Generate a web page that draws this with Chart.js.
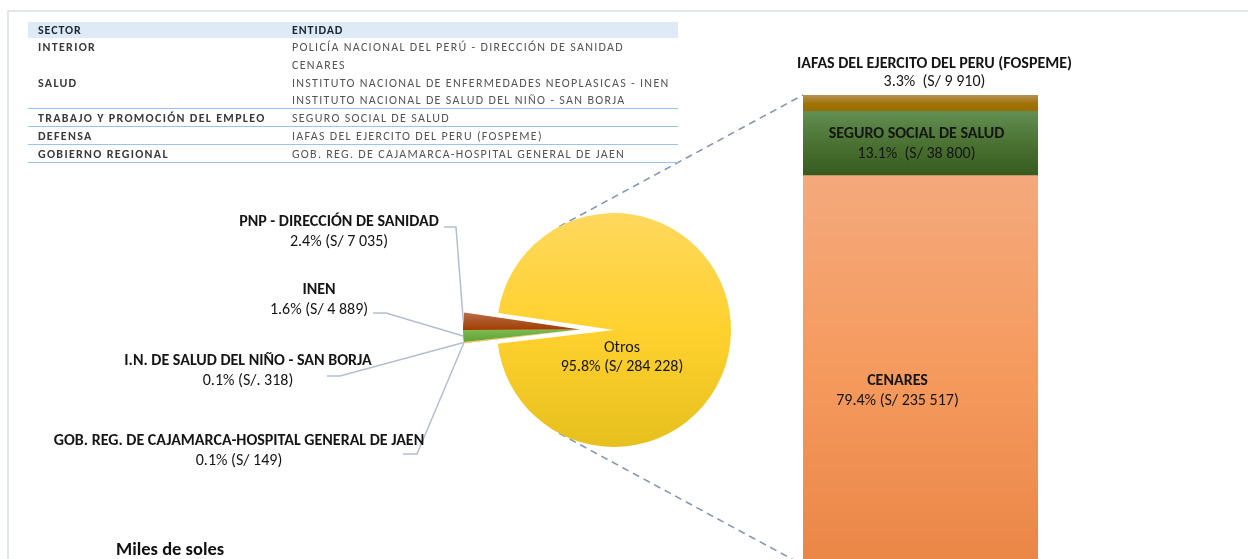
<!DOCTYPE html>
<html><head><meta charset="utf-8">
<script src="https://cdn.jsdelivr.net/npm/chart.js@4.4.1/dist/chart.umd.min.js"></script>
<style>
html,body{margin:0;padding:0;background:#fff;}
#wrap{position:relative;width:1248px;height:559px;overflow:hidden;background:#fff;}
#frame{position:absolute;left:7px;top:10px;width:1260px;height:570px;border-top:2px solid #e2e7ee;border-left:2px solid #e2e7ee;}
#pie{position:absolute;left:0;top:0;}
#bar{position:absolute;left:760px;top:40px;}
#tbl{position:absolute;left:28px;top:22px;width:650px;font-family:Carlito,Lato,sans-serif;font-size:12px;letter-spacing:1.3px;}
#tbl .hd{position:absolute;left:0;top:0;width:650px;height:16px;background:#deeaf6;}
#tbl .c1,#tbl .c2{position:absolute;white-space:nowrap;line-height:12px;}
#tbl .c1{left:10px;color:#3a3a3a;font-weight:bold;}
#tbl .c2{left:264px;color:#555;}
#tbl .hd .c1,#tbl .hd .c2{color:#1d2733;top:2px;font-weight:bold;letter-spacing:0.9px;}
#tbl .rule{position:absolute;left:0;width:650px;height:0;border-top:1.5px solid #9dc3e6;}
#miles{position:absolute;left:116px;top:538px;font-family:Carlito,Lato,sans-serif;font-weight:bold;font-size:18.5px;line-height:22px;color:#111;}
</style></head>
<body><div id="wrap">
<div id="frame"></div>
<canvas id="pie" width="1248" height="559"></canvas>
<canvas id="bar" width="330" height="525"></canvas>
<div id="tbl"></div>
<div id="miles">Miles de soles</div>
</div>
<script>
// ---- data ----
const tableHeader = ['SECTOR', 'ENTIDAD'];
const tableSectors = ['INTERIOR', '', 'SALUD', '', 'TRABAJO Y PROMOCIÓN DEL EMPLEO', 'DEFENSA', 'GOBIERNO REGIONAL'];
const tableEntities = ['POLICÍA NACIONAL DEL PERÚ - DIRECCIÓN DE SANIDAD', 'CENARES',
  'INSTITUTO NACIONAL DE ENFERMEDADES NEOPLASICAS - INEN', 'INSTITUTO NACIONAL DE SALUD DEL NIÑO - SAN BORJA',
  'SEGURO SOCIAL DE SALUD', 'IAFAS DEL EJERCITO DEL PERU (FOSPEME)', 'GOB. REG. DE CAJAMARCA-HOSPITAL GENERAL DE JAEN'];
const tableRuleAfter = [false, false, false, true, true, true, true];

const pieLabels = ['GOB. REG. DE CAJAMARCA-HOSPITAL GENERAL DE JAEN', 'I.N. DE SALUD DEL NIÑO - SAN BORJA', 'INEN', 'PNP - DIRECCIÓN DE SANIDAD', 'Otros'];
const pieValues = [149, 318, 4889, 7035, 284228];
const pieCurrency = ['S/', 'S/.', 'S/', 'S/', 'S/'];

const barLabels = ['CENARES', 'SEGURO SOCIAL DE SALUD', 'IAFAS DEL EJERCITO DEL PERU (FOSPEME)'];
const barValues = [235517, 38800, 9910];
const barGap = [' ', '  ', '  '];

// ---- table ----
(function(){
  const t = document.getElementById('tbl');
  let h = '<div class="hd"><div class="c1">' + tableHeader[0] + '</div><div class="c2">' + tableHeader[1] + '</div></div>';
  const rowH = 17.8, top0 = 16;
  tableSectors.forEach((s, i) => {
    const y = top0 + i * rowH;
    h += '<div class="c1" style="top:' + (y + 3) + 'px">' + s + '</div>';
    h += '<div class="c2" style="top:' + (y + 3) + 'px">' + tableEntities[i] + '</div>';
    if (tableRuleAfter[i]) h += '<div class="rule" style="top:' + (y + rowH - 1) + 'px"></div>';
  });
  t.innerHTML = h;
})();

const total = pieValues.reduce((a, b) => a + b, 0);
const fmt = v => String(v).replace(/\B(?=(\d{3})+(?!\d))/g, ' ');
const pct = v => (v / total * 100).toFixed(1) + '%';
const FONT = 'Carlito, Lato, sans-serif';
const TXT = '#151515';
const LBL = 16;

// ---- bar chart ----
const barCum = barValues.map((v, i) => barValues.slice(0, i + 1).reduce((a, b) => a + b, 0));
const barTotal = barCum[barCum.length - 1];
const barStops = [
  ['#f4a97c', '#f59a5e', '#ea8646'],
  ['#628f52', '#4a7232', '#375a20'],
  ['#b89058', '#a07408', '#9a6c00']
];
function barGrad(c) {
  const ch = c.chart, y = ch.scales && ch.scales.y, i = c.datasetIndex;
  if (!y || !ch.chartArea) return barStops[i][1];
  const yt = y.getPixelForValue(barCum[i]), yb = y.getPixelForValue(barCum[i] - barValues[i]);
  const g = ch.ctx.createLinearGradient(0, yt, 0, yb);
  g.addColorStop(0, barStops[i][0]); g.addColorStop(0.5, barStops[i][1]); g.addColorStop(1, barStops[i][2]);
  return g;
}
const barLabelLayout = [
  {dx: -23, dy1: 11, dy2: 31, ref: 'center'},
  {dx: -4, dy1: -9, dy2: 11, ref: 'center'},
  {dx: 14, dy1: -31, dy2: -13, ref: 'top'}
];
const barLabelPlugin = {
  id: 'barLabels',
  afterDraw(chart) {
    const ctx = chart.ctx;
    ctx.save();
    ctx.textAlign = 'center'; ctx.textBaseline = 'middle'; ctx.fillStyle = TXT;
    barValues.forEach((v, i) => {
      const el = chart.getDatasetMeta(i).data[0];
      const L = barLabelLayout[i];
      const yRef = L.ref === 'top' ? el.y : (el.y + el.base) / 2;
      ctx.font = 'bold ' + LBL + 'px ' + FONT;
      ctx.fillText(barLabels[i], el.x + L.dx, yRef + L.dy1);
      ctx.font = LBL + 'px ' + FONT;
      ctx.fillText(pct(v) + barGap[i] + '(S/ ' + fmt(v) + ')', el.x + L.dx, yRef + L.dy2);
    });
    ctx.restore();
  }
};
const barCanvas = document.getElementById('bar');
const barChart = new Chart(barCanvas, {
  type: 'bar',
  data: {
    labels: [''],
    datasets: barLabels.map((l, i) => ({
      label: l, data: [barValues[i]], backgroundColor: barGrad, borderWidth: 0,
      barPercentage: 1, categoryPercentage: 1
    }))
  },
  options: {
    responsive: false, animation: false, events: [],
    layout: {padding: {left: 43, right: 52, top: 55, bottom: 0}},
    plugins: {legend: {display: false}, tooltip: {enabled: false}},
    scales: {
      x: {display: false, stacked: true},
      y: {display: false, stacked: true, min: 0, max: barTotal}
    }
  },
  plugins: [barLabelPlugin]
});

// ---- pie chart ----
const PIE_R = 117, EXPLODE = 34;
const pieSolid = ['#ed7d31', '#ffc000', '#6fae45', '#a8460f', '#ffd12f'];
function pieColor(c) {
  const ch = c.chart, ca = ch.chartArea, i = c.dataIndex;
  if (!ca) return pieSolid[i];
  const cy = (ca.top + ca.bottom) / 2;
  if (i === 4) {
    const g = ch.ctx.createLinearGradient(0, cy - PIE_R, 0, cy + PIE_R);
    g.addColorStop(0, '#ffd85e'); g.addColorStop(0.5, '#ffd12e'); g.addColorStop(1, '#e6c01e');
    return g;
  }
  if (i === 3) {
    const g = ch.ctx.createLinearGradient(0, cy - 17, 0, cy);
    g.addColorStop(0, '#b86c48'); g.addColorStop(1, '#a03d00');
    return g;
  }
  if (i === 2) {
    const g = ch.ctx.createLinearGradient(0, cy, 0, cy + 13);
    g.addColorStop(0, '#7cb94f'); g.addColorStop(1, '#5f9f35');
    return g;
  }
  return pieSolid[i];
}
const explodePlugin = {
  id: 'explode',
  afterDatasetsUpdate(chart) {
    const els = chart.getDatasetMeta(0).data.slice(0, 4);
    const a = (els[0].startAngle + els[els.length - 1].endAngle) / 2;
    els.forEach(el => { el.x += Math.cos(a) * EXPLODE; el.y += Math.sin(a) * EXPLODE; });
  }
};
const pieLabelLayout = [
  {x: 239, y: 441, from: [403, 454], elbow: [417, 454]},
  {x: 248, y: 361, from: [327, 376], elbow: [340, 376]},
  {x: 319, y: 290, from: [373, 313], elbow: [386, 313]},
  {x: 339, y: 222, from: [444, 227], elbow: [456, 227]}
];
const pieDecor = {
  id: 'pieDecor',
  beforeDatasetsDraw(chart) {
    const ctx = chart.ctx;
    const main = chart.getDatasetMeta(0).data[4];
    const bars = barChart.getDatasetMeta(barValues.length - 1).data[0];
    const first = barChart.getDatasetMeta(0).data[0];
    const ox = barCanvas.offsetLeft, oy = barCanvas.offsetTop;
    const bx = ox + bars.x - bars.width / 2;
    const ang = 118 * Math.PI / 180;
    ctx.save();
    ctx.strokeStyle = '#8598b2'; ctx.lineWidth = 1.6; ctx.setLineDash([7, 5]);
    ctx.beginPath();
    ctx.moveTo(main.x + Math.cos(-ang) * main.outerRadius, main.y + Math.sin(-ang) * main.outerRadius);
    ctx.lineTo(bx, oy + bars.y);
    ctx.moveTo(main.x + Math.cos(ang) * main.outerRadius, main.y + Math.sin(ang) * main.outerRadius);
    ctx.lineTo(bx, oy + first.base);
    ctx.stroke();
    ctx.restore();
  },
  afterDraw(chart) {
    const ctx = chart.ctx;
    const data = chart.getDatasetMeta(0).data;
    ctx.save();
    ctx.strokeStyle = '#b3bfd0'; ctx.lineWidth = 1.5;
    pieLabelLayout.forEach((L, i) => {
      const el = data[i];
      const mid = (el.startAngle + el.endAngle) / 2;
      const ax = el.x + Math.cos(mid) * el.outerRadius, ay = el.y + Math.sin(mid) * el.outerRadius;
      ctx.beginPath();
      ctx.moveTo(L.from[0], L.from[1]); ctx.lineTo(L.elbow[0], L.elbow[1]); ctx.lineTo(ax, ay);
      ctx.stroke();
    });
    ctx.textAlign = 'center'; ctx.textBaseline = 'middle'; ctx.fillStyle = TXT;
    pieLabelLayout.forEach((L, i) => {
      ctx.font = 'bold ' + LBL + 'px ' + FONT;
      ctx.fillText(pieLabels[i], L.x, L.y);
      ctx.font = LBL + 'px ' + FONT;
      ctx.fillText(pct(pieValues[i]) + ' (' + pieCurrency[i] + ' ' + fmt(pieValues[i]) + ')', L.x, L.y + 20);
    });
    const m = data[4];
    ctx.font = LBL + 'px ' + FONT;
    ctx.fillText(pieLabels[4], m.x + 8, m.y + 18);
    ctx.fillText(pct(pieValues[4]) + ' (' + pieCurrency[4] + ' ' + fmt(pieValues[4]) + ')', m.x + 8, m.y + 37);
    ctx.restore();
  }
};
new Chart(document.getElementById('pie'), {
  type: 'pie',
  data: {labels: pieLabels, datasets: [{data: pieValues, backgroundColor: pieColor, borderWidth: 0}]},
  options: {
    responsive: false, animation: false, events: [],
    rotation: 263.3, radius: PIE_R,
    layout: {padding: {left: 414, right: 434, top: 130, bottom: 29}},
    plugins: {legend: {display: false}, tooltip: {enabled: false}}
  },
  plugins: [explodePlugin, pieDecor]
});
</script>
</body></html>
